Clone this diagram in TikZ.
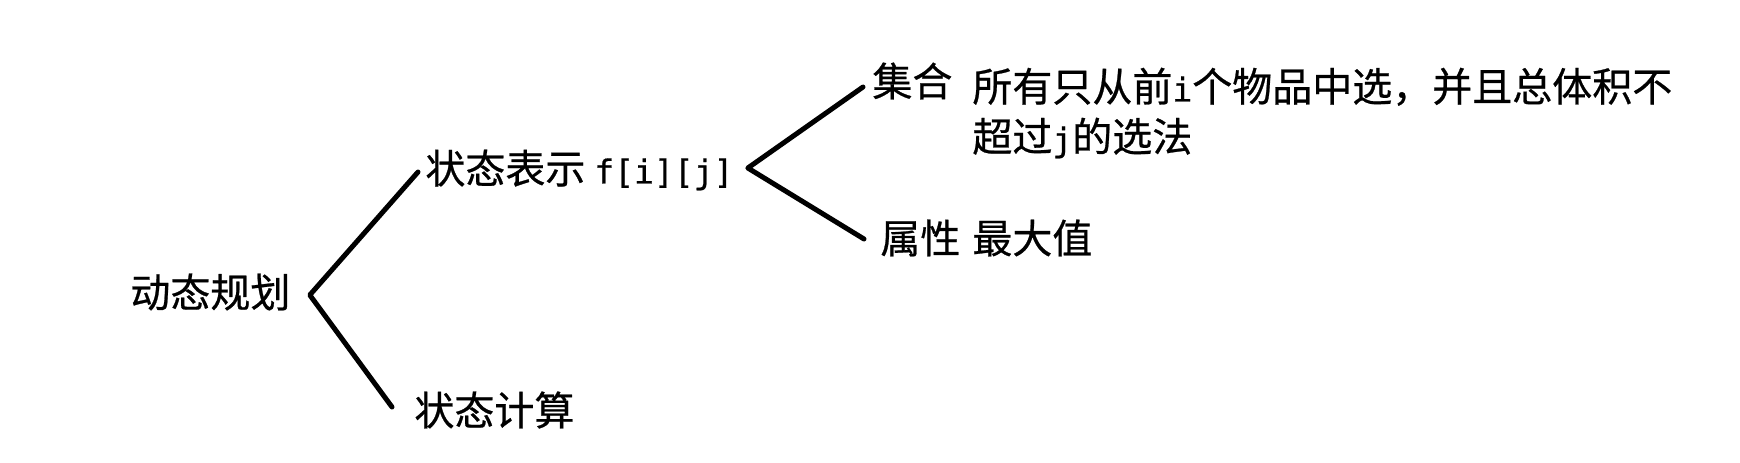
\documentclass[tikz,border=0pt]{standalone}
\usepackage{fontspec}
\setmainfont[FakeBold=0.6]{Noto Sans CJK SC}
\newfontfamily\monofnt[FakeBold=0.6]{DejaVu Sans Mono}
\usepackage{xcolor}
\usepackage{tikz}
\newcommand{\mono}[1]{{\monofnt\fontsize{16.5}{25}\selectfont #1}}

\begin{document}
\begin{tikzpicture}[x=0.5pt, y=-0.5pt,
  lbl/.style={anchor=west, inner sep=0pt, font=\fontsize{20}{25}\selectfont},
  branch/.style={line width=2.5pt, line cap=round, line join=round}]%
\useasboundingbox (0,0) rectangle (1740,462);%
\node[lbl] (dp) at (130,292) {动态规划};%
\node[lbl] (repr) at (425,170) {状态表示 \mono{f[i][j]}};%
\node[lbl] (calc) at (414,410) {状态计算};%
\node[lbl] (set) at (872,81) {集合};%
\node[lbl, align=left] (setdesc) at (972,113) {所有只从前\mono{i}个物品中选，并且总体积不\\超过\mono{j}的选法};%
\node[lbl] (attr) at (880,238) {属性};%
\node[lbl] (attrval) at (972,238) {最大值};%
\coordinate (dpfork) at ([xshift=9.5pt,yshift=-1.5pt]dp.east);%
\coordinate (reprfork) at ([xshift=7pt,yshift=1pt]repr.east);%
\draw[branch] ([xshift=-3.5pt,yshift=-1pt]repr.west) -- (dpfork) -- ([xshift=-11pt,yshift=1.5pt]calc.west);%
\draw[branch] ([xshift=-4.5pt,yshift=-3pt]set.west) -- (reprfork) -- ([xshift=-8pt,yshift=-0.5pt]attr.west);%
\end{tikzpicture}
\end{document}
